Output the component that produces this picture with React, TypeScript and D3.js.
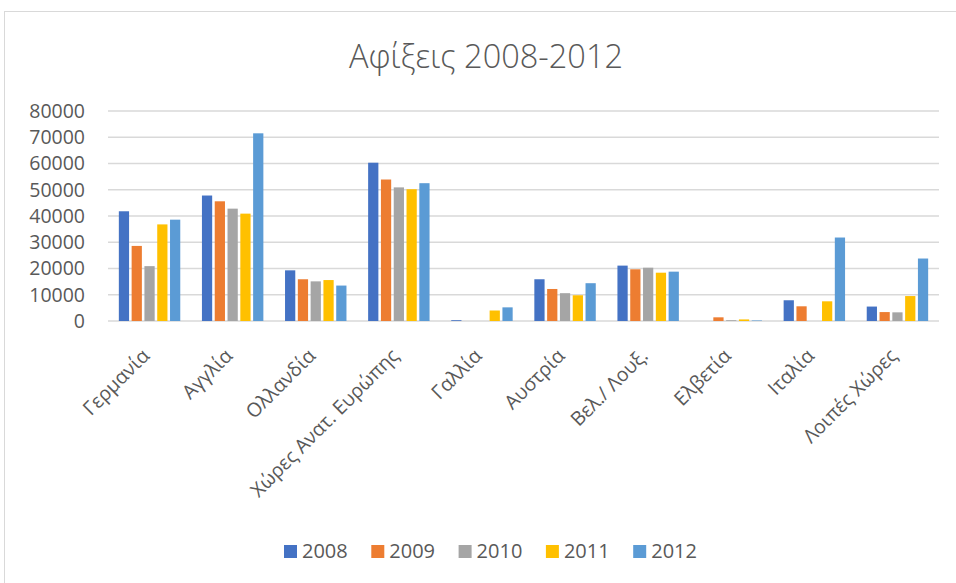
import React from "react";
import * as d3 from "d3";

const categories = [
  "Γερμανία",
  "Αγγλία",
  "Ολλανδία",
  "Χώρες Ανατ. Ευρώπης",
  "Γαλλία",
  "Αυστρία",
  "Βελ./ Λουξ.",
  "Ελβετία",
  "Ιταλία",
  "Λοιπές Χώρες",
];
const years = ["2008", "2009", "2010", "2011", "2012"];
const v2008 = [41800, 47800, 19300, 60300, 300, 15900, 21100, 0, 7900, 5500];
const v2009 = [28600, 45600, 15900, 53900, 0, 12200, 19700, 1400, 5600, 3400];
const v2010 = [20900, 42800, 15100, 50900, 0, 10600, 20300, 300, 0, 3300];
const v2011 = [36800, 40900, 15600, 50200, 4000, 9800, 18400, 600, 7500, 9500];
const v2012 = [38600, 71500, 13500, 52500, 5200, 14400, 18800, 200, 31800, 23800];
const yTicks = [0, 10000, 20000, 30000, 40000, 50000, 60000, 70000, 80000];
const colors = ["#4472C4", "#ED7D31", "#A5A5A5", "#FFC000", "#5B9BD5"];

const series = [v2008, v2009, v2010, v2011, v2012];

export default function App() {
  const W = 956;
  const H = 583;
  const left = 108;
  const right = 939;
  const top = 111;
  const bottom = 321;
  const font = "'Open Sans', sans-serif";
  const textColor = "#595959";

  const x0 = d3.scaleBand<string>().domain(categories).range([left, right]).paddingInner(0).paddingOuter(0);
  const groupW = x0.bandwidth() * 0.77;
  const x1 = d3.scaleBand<string>().domain(years).range([0, groupW]).paddingInner(0.2).paddingOuter(0.1);
  const y = d3.scaleLinear().domain([0, 80000]).range([bottom, top]);

  const legendX = d3.scaleBand<string>().domain(years).range([284, 284 + 87.3 * 5]);

  return (
    <svg width={W} height={H} style={{ position: "absolute", left: 0, top: 0, background: "#fff" }}>
      <rect x={4.5} y={11.5} width={1000} height={1000} fill="#fff" stroke="#d9d9d9" strokeWidth={1} />
      <text x={486} y={68} textAnchor="middle" fontFamily={font} fontWeight={300} fontSize={32.5} fill={textColor}>
        Αφίξεις 2008-2012
      </text>
      {yTicks.map((t) => (
        <g key={t}>
          <line x1={left} x2={right} y1={y(t)} y2={y(t)} stroke="#d9d9d9" strokeWidth={1.5} />
          <text x={85} y={y(t)} dy="0.35em" textAnchor="end" fontFamily={font} fontSize={19.5} fill={textColor}>
            {t}
          </text>
        </g>
      ))}
      {categories.map((c, i) => {
        const gx = (x0(c) as number) + (x0.bandwidth() - groupW) / 2;
        return (
          <g key={c}>
            {series.map((s, j) =>
              s[i] > 0 ? (
                <rect
                  key={j}
                  x={gx + (x1(years[j]) as number)}
                  y={y(s[i])}
                  width={x1.bandwidth()}
                  height={y(0) - y(s[i])}
                  fill={colors[j]}
                />
              ) : null
            )}
          </g>
        );
      })}
      {categories.map((c) => {
        const cx = (x0(c) as number) + x0.bandwidth() / 2;
        return (
          <text
            key={c}
            transform={`translate(${cx + 1},${bottom + 36}) rotate(-45)`}
            textAnchor="end"
            fontFamily={font}
            fontSize={19.5}
            fill={textColor}
          >
            {c}
          </text>
        );
      })}
      {years.map((yr, j) => (
        <g key={yr} transform={`translate(${legendX(yr)},0)`}>
          <rect x={0} y={545} width={13} height={13} fill={colors[j]} />
          <text x={18} y={551} dy="0.35em" fontFamily={font} fontSize={20} fill={textColor}>
            {yr}
          </text>
        </g>
      ))}
    </svg>
  );
}
